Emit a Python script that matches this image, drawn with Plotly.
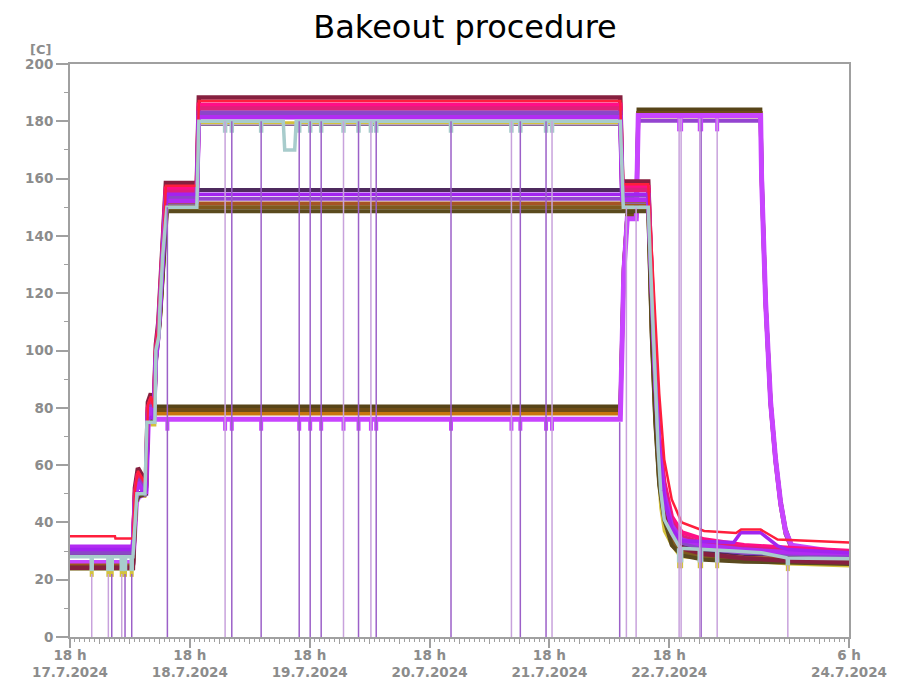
import pandas as pd
import plotly.graph_objects as go

BASE = pd.Timestamp("2024-07-17 18:00")

# ---- tick labels ----
TICK_HOURS = [0, 24, 48, 72, 96, 120, 156]
TICK_TOP = ["18 h", "18 h", "18 h", "18 h", "18 h", "18 h", "6 h"]
TICK_DATE = ["17.7.2024", "18.7.2024", "19.7.2024", "20.7.2024", "21.7.2024", "22.7.2024", "24.7.2024"]

# ---- group A heaters (~185 C plateau), hours since 17.7.2024 18:00 ----
A_T = [0, 12.6, 13.0, 13.6, 14.6, 15.2, 15.6, 16.2, 16.8, 17.2, 17.7, 18.2, 18.8, 19.2, 25.4, 25.8,
       110.2, 110.6, 115.8, 116.5, 117.2, 118.0, 119.0, 120.5, 122.5, 127.0, 135.0, 145.0, 156.3]
A_MAROON = [24.2, 24.2, 52, 59, 56, 55, 82, 85, 81, 102, 110, 128, 142, 158.5, 158.5, 188.3, 188.3, 159, 159,
            118, 88, 62, 47, 36, 31, 29, 27.5, 26.5, 26]
A_HOTPINK = [31, 31, 50, 57, 54, 53, 80, 83, 79, 100, 108, 126, 140, 156.5, 156.5, 185.8, 185.8, 157, 157,
             125, 95, 70, 54, 42, 36.5, 34, 32, 31, 30]
A_PINK = [30.3, 30.3, 49, 56, 53, 52, 79, 82, 78, 99, 107, 125, 139, 155.3, 155.3, 184.5, 184.5, 156, 156,
          122, 92, 67, 52, 40, 35, 32.5, 31, 30, 29.6]
A_PURPLE = [29.5, 29.5, 48, 55, 52, 51, 78, 81, 77, 98, 106, 124, 138, 153.6, 153.6, 183, 183, 154.2, 154.2,
            120, 90, 64, 49, 38, 33, 31, 29.5, 29, 28.5]
A_VIOLET = [31.5, 31.5, 47, 54, 51, 50, 77, 80, 76, 97, 105, 123, 137, 152.2, 152.2, 181.4, 181.4, 152.6, 152.6,
            121, 91, 66, 50, 39, 34, 32, 30.5, 29.5, 29.2]
A_DUSK = [28.6, 28.6, 47, 53, 50, 49, 76, 79, 75, 96, 104, 122, 136, 151, 151, 178.6, 178.6, 151.4, 151.4,
          119, 89, 63, 48, 37.5, 32.5, 30.5, 29, 28.5, 28]

R_T = [0, 9.0, 9.1, 12.6, 13.0, 13.6, 14.6, 15.2, 15.6, 16.2, 16.8, 17.2, 17.7, 18.2, 18.8, 19.2, 25.4, 25.8,
       110.2, 110.6, 115.8, 116.5, 117.2, 118.0, 119.0, 120.5, 122.5, 127.0, 133.4, 134.4, 138.3, 141.7, 156.3]
R_V = [35.2, 35.2, 34.4, 34.4, 51, 58, 55, 54, 81, 84, 80, 101, 109, 126, 141, 157.5, 157.5, 187.1,
       187.1, 158, 158, 135, 110, 85, 62, 48, 40, 37, 36.3, 37.5, 37.5, 34, 33]

# ---- group B (~152 C plateau) ----
B_T = [0, 12.6, 13.2, 13.7, 15.2, 15.6, 16.8, 17.2, 18.0, 18.8, 19.4, 115.8, 116.5, 117.2, 118.0, 119.0,
       120.5, 122.5, 127.0, 135.0, 145.0, 156.3]
B_DARKPURPLE = [29, 29, 48, 50, 51, 76.5, 77.5, 98, 112, 135, 156, 156, 112, 82, 60, 46, 37, 32, 30, 29, 28.5, 28]
B_SIENNA = [25, 25, 47, 49.5, 50.5, 75.5, 76.5, 97, 111, 134, 151.3, 151.3, 108, 78, 56, 43, 34, 29.8, 28.5, 27.7, 27.2, 27]
B_BROWN = [24.5, 24.5, 47, 49.5, 50.5, 75.5, 76.5, 97, 111, 134, 150, 150, 106, 76, 54, 42, 33, 29.2, 28, 27.2, 26.8, 26.5]
B_OLIVE = [24, 24, 47, 49, 50, 75, 76, 96, 110, 133, 148.6, 148.6, 105, 75, 53, 41, 32, 28.5, 27, 26.3, 25.8, 25.5]

BP_T = [0, 12.6, 13.2, 13.7, 15.2, 15.6, 16.8, 17.2, 18.0, 18.8, 19.4, 113.4, 113.8, 138.3, 138.5, 138.8,
        139.3, 140.3, 141.3, 142.3, 143.3, 144.5, 156.3]
BP_V = [29.5, 29.5, 48, 50, 51, 76, 77, 98, 112, 135, 153, 153, 180.2, 180.2, 158, 143, 116, 81, 61, 46,
        36, 31, 28.2]

BV_T = [0, 12.6, 13.2, 13.7, 15.2, 15.6, 16.8, 17.2, 18.0, 18.8, 19.4, 115.8, 116.5, 117.2, 118.0, 119.0,
        120.5, 122.2, 132.9, 134.3, 138.3, 141.7, 143.7, 156.3]
BV_V = [30.5, 30.5, 48, 50, 51, 76, 77, 98, 112, 135, 154.5, 154.5, 118, 88, 63, 48, 38, 33.6, 33, 36.4,
        36.4, 31.8, 30.5, 29.4]

# ---- group C (~78 C plateau, then second bakeout ~182 C) ----
C_T = [0, 12.6, 13.3, 13.8, 15.2, 15.7, 110.2, 110.9, 111.6, 113.4, 113.8, 138.3, 138.5, 138.8, 139.3,
       140.3, 141.3, 142.3, 143.3, 144.5, 156.3]
C_OLIVE = [24.5, 24.5, 48, 50, 51, 80.5, 80.5, 130, 148, 148, 184.2, 184.2, 162, 146, 118, 83, 63, 48, 38, 32, 25.5]
C_BROWN = [24, 24, 48, 50, 51, 79.2, 79.2, 129, 147, 147, 182.9, 182.9, 161, 145, 117, 82, 62, 47, 37, 31.5, 26]
C_ORANGE = [24.5, 24.5, 48, 50, 51, 78, 78, 128, 147, 147, 181.8, 181.8, 160, 144, 116, 81, 61, 46, 36, 31, 26.6]
C_MAGENTA = [26, 26, 47, 49, 50, 76, 76, 127, 146, 146, 182, 182, 160, 145, 117, 82, 62, 47, 37, 32, 29]

# ---- setpoint-like light blue trace and yellow sensor ----
L_T = [0, 12.6, 13.4, 15.0, 15.4, 17.0, 17.2, 17.8, 18.0, 18.6, 19.4, 25.4, 25.8, 42.7, 43.0, 45.0, 45.3,
       110.2, 110.8, 115.8, 116.2, 116.7, 117.3, 117.8, 118.3, 119.0, 120.5, 122.2, 132.9, 138.5, 143.7, 156.3]
L_V = [28, 28, 50, 50, 75, 75, 100, 105, 115, 134, 150, 150, 180, 180, 170, 170, 180, 180, 150, 150,
       132, 109, 82, 65, 51, 41, 36, 31, 30, 29.4, 27.6, 27.3]

Y_T = [0, 12.6, 13.4, 15.0, 15.4, 17.0, 17.2, 18.0, 18.6, 19.4, 25.4, 25.8, 110.2, 110.8, 115.8, 116.2,
       116.7, 117.3, 117.8, 118.3, 119.0, 120.5, 122.2, 132.9, 143.7, 156.3]
Y_V = [23.8, 23.8, 49, 49, 74, 74, 99, 114, 133, 149, 149, 179.5, 179.5, 149, 149, 128, 102, 74, 57, 45,
       37, 32, 28, 27, 25.5, 24.8]

# ---- logging glitches: samples dropping to 0 ----
SPK_PURPLE_T = [8.36, 11.02, 12.36, 19.5, 32.4, 38.28, 45.9, 48.1, 50.3, 57.78, 61.32, 76.3, 90.18,
                95.33, 110.08, 126.39]
SPK_PURPLE_TOP = [22, 22, 22, 150, 180, 180, 180, 180, 180, 180, 180, 180, 180, 180, 75, 181]
SPK_LILAC_T = [4.35, 7.68, 10.36, 31.06, 54.77, 60.26, 88.4, 96.53, 111.42, 113.37, 121.98, 122.38,
               126.11, 129.6, 143.75]
SPK_LILAC_TOP = [22, 22, 22, 180, 180, 180, 180, 180, 150, 150, 181, 181, 181, 181, 25]

LB_NOTCH_T = [4.35, 7.68, 8.36, 10.36, 11.02, 12.36, 31.06, 32.4, 38.28, 45.9, 48.1, 50.3, 54.77, 57.78,
              60.26, 61.32, 76.3, 88.4, 90.18, 95.33, 96.53, 121.98, 122.38, 126.11, 126.39, 129.6, 143.75]
LB_NOTCH_HI = [28, 28, 28, 28, 28, 28, 180, 180, 180, 180, 180, 180, 180, 180, 180, 180, 180, 180, 180,
               180, 180, 31, 31, 30.7, 30.7, 30.5, 27.6]
LB_NOTCH_LO = [23, 23, 23, 23, 23, 23, 176, 176, 176, 176, 176, 176, 176, 176, 176, 176, 176, 176, 176,
               176, 176, 26, 26, 26, 26, 26, 25]

MG_NOTCH_T = [19.5, 31.06, 32.4, 38.28, 45.9, 48.1, 50.3, 54.77, 57.78, 60.26, 61.32, 76.3, 88.4, 90.18,
              95.33, 96.53, 121.98, 122.38, 126.11, 126.39, 129.6]
MG_NOTCH_HI = [76, 76, 76, 76, 76, 76, 76, 76, 76, 76, 76, 76, 76, 76, 76, 76, 181, 181, 181, 181, 181]
MG_NOTCH_LO = [72, 72, 72, 72, 72, 72, 72, 72, 72, 72, 72, 72, 72, 72, 72, 72, 176.5, 176.5, 176.5, 176.5, 176.5]

YL_NOTCH_T = [4.35, 7.68, 8.36, 10.36, 11.02, 12.36, 121.98, 122.38, 126.11, 126.39, 129.6, 143.75]
YL_NOTCH_HI = [23.8, 23.8, 23.8, 23.8, 23.8, 23.8, 27.5, 27.5, 27.3, 27.3, 27.2, 25.5]
YL_NOTCH_LO = [21, 21, 21, 21, 21, 21, 24, 24, 24, 24, 24, 23]


def to_dt(hours):
    return [BASE + pd.Timedelta(hours=h) for h in hours]


def segs(ts, hi, lo):
    xs, ys = [], []
    for t, a, b in zip(ts, hi, lo):
        d = BASE + pd.Timedelta(hours=t)
        xs += [d, d, None]
        ys += [a, b, None]
    return xs, ys


fig = go.Figure()


def line(ts, vs, color, width):
    fig.add_trace(go.Scatter(x=to_dt(ts), y=vs, mode="lines", line=dict(color=color, width=width),
                             showlegend=False, hoverinfo="skip"))


# draw order: bottom to top
line(Y_T, Y_V, "#d4c23c", 3)
line(C_T, C_ORANGE, "#c8760e", 4)
line(C_T, C_OLIVE, "#574418", 3.5)
line(C_T, C_BROWN, "#6e4c16", 4)
line(BP_T, BP_V, "#9444d0", 4)
line(C_T, C_MAGENTA, "#c844ff", 5)
line(B_T, B_DARKPURPLE, "#4e2a5e", 4)
line(B_T, B_SIENNA, "#a65424", 4)
line(B_T, B_BROWN, "#7e5a1e", 4)
line(B_T, B_OLIVE, "#5a4a1e", 4)
line(A_T, A_DUSK, "#8a6a9a", 1.5)
line(A_T, A_MAROON, "#86203f", 4.5)
line(A_T, A_HOTPINK, "#ff0f87", 4.5)
line(A_T, A_PINK, "#e0207a", 4.5)
line(A_T, A_PURPLE, "#8c46c8", 4.5)
line(A_T, A_VIOLET, "#b22cf2", 4.5)
line(BV_T, BV_V, "#a224f0", 3.5)
line(R_T, R_V, "#ff1e3c", 2.5)
line(L_T, L_V, "#a8cccc", 3.5)

for (ts, hi, lo, col, w) in [
    (YL_NOTCH_T, YL_NOTCH_HI, YL_NOTCH_LO, "#d4c23c", 4),
    (LB_NOTCH_T, LB_NOTCH_HI, LB_NOTCH_LO, "#a8cccc", 4.5),
    (MG_NOTCH_T, MG_NOTCH_HI, MG_NOTCH_LO, "#c844ff", 4),
]:
    xs, ys = segs(ts, hi, lo)
    fig.add_trace(go.Scatter(x=xs, y=ys, mode="lines", line=dict(color=col, width=w),
                             showlegend=False, hoverinfo="skip"))

for (ts, top, col) in [(SPK_PURPLE_T, SPK_PURPLE_TOP, "#9c60c8"),
                       (SPK_LILAC_T, SPK_LILAC_TOP, "#c8a2dc")]:
    xs, ys = segs(ts, top, [0] * len(top))
    fig.add_trace(go.Scatter(x=xs, y=ys, mode="lines", line=dict(color=col, width=1.5),
                             showlegend=False, hoverinfo="skip"))

# invisible anchors for the overlay axes
for ax in ["x2", "x3", "x4"]:
    fig.add_trace(go.Scatter(x=to_dt([0]), y=[0], xaxis=ax, mode="markers",
                             marker=dict(opacity=0), showlegend=False, hoverinfo="skip"))

GRAY = "#8c8c8c"
LINEGRAY = "#a0a0a0"
FONT = "DejaVu Sans, Verdana, sans-serif"
xr = [BASE, BASE + pd.Timedelta(hours=156)]
tickfont = dict(family=FONT, size=13.5, color=GRAY, weight="bold")

overlay = dict(type="date", range=xr, overlaying="x", anchor="y", side="bottom",
               showline=False, showgrid=False, zeroline=False, automargin=False)

fig.update_layout(
    width=910, height=684,
    margin=dict(l=70, r=61, t=64, b=47),
    paper_bgcolor="white", plot_bgcolor="white",
    title=dict(text="Bakeout procedure", x=465 / 910, xref="container", xanchor="center",
               y=1 - 27 / 684, yref="container", yanchor="middle",
               font=dict(family=FONT, size=32, color="black")),
    xaxis=dict(type="date", range=xr, tickmode="array", tickvals=to_dt(TICK_HOURS), ticktext=TICK_TOP,
               ticks="outside", ticklen=5, tickwidth=1.5, tickcolor=LINEGRAY,
               showline=True, linecolor=LINEGRAY, linewidth=2, mirror=True,
               showgrid=False, zeroline=False, tickfont=tickfont, automargin=False,
               minor=dict(ticks="outside", ticklen=3, tickwidth=1, tickcolor=LINEGRAY,
                          dtick=3600000, showgrid=False)),
    xaxis2=dict(overlay, tickmode="array", tickvals=to_dt(TICK_HOURS), ticktext=TICK_DATE,
                ticks="", tickfont=tickfont, ticklabelstandoff=25),
    xaxis3=dict(overlay, tick0=BASE, dtick=21600000, ticks="outside", ticklen=6, tickwidth=1,
                tickcolor=LINEGRAY, showticklabels=False),
    xaxis4=dict(overlay, tickmode="array", tickvals=to_dt(TICK_HOURS), ticks="outside", ticklen=10,
                tickwidth=1.5, tickcolor=LINEGRAY, showticklabels=False),
    yaxis=dict(range=[0, 200], dtick=20, ticks="outside", ticklen=12, tickwidth=1.5,
               tickcolor=LINEGRAY, showline=True, linecolor=LINEGRAY, linewidth=2, mirror=True,
               showgrid=False, zeroline=False, tickfont=tickfont, automargin=False,
               minor=dict(ticks="outside", ticklen=4, tickwidth=1, tickcolor=LINEGRAY,
                          dtick=10, showgrid=False)),
    annotations=[dict(text="[C]", xref="paper", yref="paper", x=(28 - 70) / 779, y=(637.5 - 49) / 573.5,
                      xanchor="left", yanchor="middle", showarrow=False,
                      font=dict(family=FONT, size=13, color=GRAY, weight="bold"))],
)

fig.write_html("out.html")
